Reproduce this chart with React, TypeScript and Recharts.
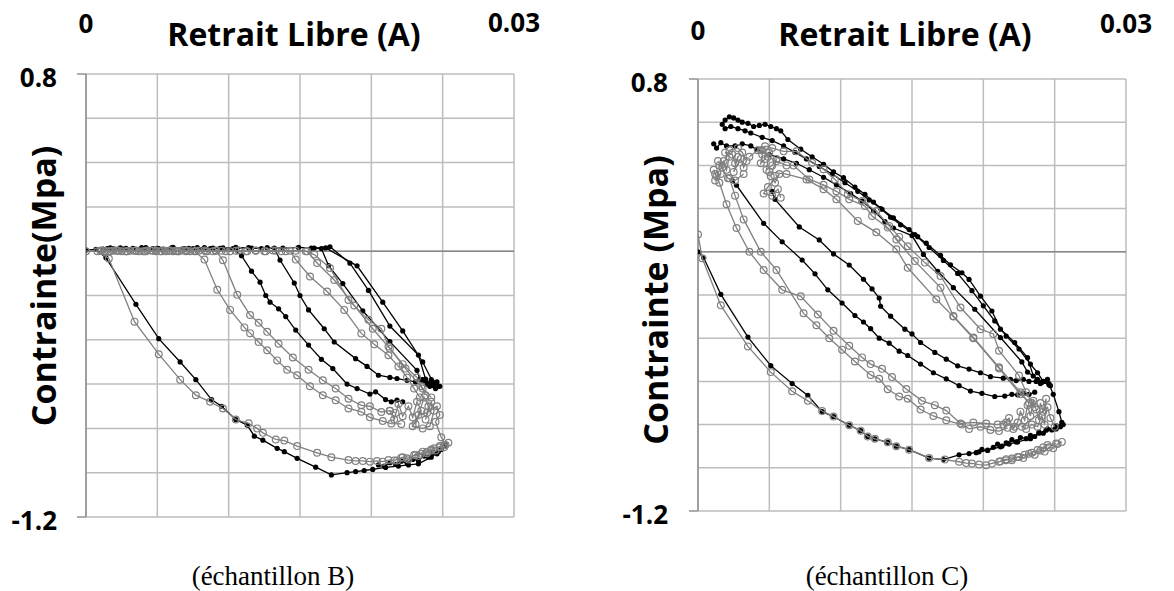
import React from 'react';
import { ScatterChart, Scatter, XAxis, YAxis, CartesianGrid, ReferenceLine } from 'recharts';

type Pt = [number, number];

const xTicks = [0, 0.005, 0.01, 0.015, 0.02, 0.025, 0.03];
const yTicks = [-1.2, -1.0, -0.8, -0.6, -0.4, -0.2, 0, 0.2, 0.4, 0.6, 0.8];
const xLabelTicks = [0, 0.03];
const yLabelTicks = [0.8, -1.2];

const xTitle = 'Retrait Libre (A)';
const yTitleB = 'Contrainte(Mpa)';
const yTitleC = 'Contrainte (Mpa)';
const captionB = '(échantillon B)';
const captionC = '(échantillon C)';

// ---------- échantillon B ----------
const bBlackOuter: Pt[] = [
  [0, 0.005], [0.0007, 0.008], [0.0014, -0.03], [0.0035, -0.24], [0.0051, -0.395], [0.0066, -0.5],
  [0.0077, -0.58], [0.0088, -0.67], [0.0095, -0.7], [0.0105, -0.76], [0.0113, -0.785], [0.0118, -0.835],
  [0.0124, -0.853], [0.0134, -0.89], [0.0139, -0.905], [0.0148, -0.935], [0.0161, -0.975], [0.0172, -1.01],
  [0.0183, -1.0], [0.0189, -0.995], [0.0195, -0.99], [0.0201, -0.985], [0.021, -0.976], [0.0219, -0.97],
  [0.0226, -0.965], [0.0233, -0.96], [0.0242, -0.93], [0.0247, -0.905], [0.0252, -0.875],
];
const bBlackTail: Pt[] = [
  [0.0205, -0.965], [0.0209, -0.97], [0.0213, -0.955], [0.0217, -0.962], [0.0221, -0.948], [0.0225, -0.955],
  [0.0229, -0.94], [0.0233, -0.945], [0.0237, -0.925], [0.024, -0.93], [0.0243, -0.91], [0.0246, -0.915],
  [0.0249, -0.895], [0.0252, -0.88],
];
const bBlack2: Pt[] = [
  [0.0012, 0.01], [0.0019, 0.012], [0.0026, 0.01], [0.0033, 0.013], [0.004, 0.01], [0.0047, 0.012],
  [0.0054, 0.01], [0.0061, 0.014], [0.0068, 0.01], [0.0075, 0.012], [0.0082, 0.01], [0.0089, 0.014],
  [0.0096, 0.01], [0.0103, 0.012], [0.0109, -0.02], [0.0116, -0.09], [0.0122, -0.14], [0.0126, -0.2],
  [0.0129, -0.23], [0.0135, -0.26], [0.014, -0.295], [0.0147, -0.356], [0.0156, -0.424], [0.0165, -0.488],
  [0.0173, -0.53], [0.0183, -0.6], [0.019, -0.62], [0.0199, -0.645], [0.0203, -0.635], [0.021, -0.67],
  [0.0214, -0.68], [0.0218, -0.672], [0.0222, -0.68],
];
const bBlack3: Pt[] = [
  [0.0015, 0.012], [0.0024, 0.015], [0.0033, 0.012], [0.0042, 0.016], [0.0051, 0.012], [0.006, 0.015],
  [0.0069, 0.012], [0.0078, 0.016], [0.0087, 0.012], [0.0096, 0.015], [0.0105, 0.012], [0.0114, 0.016],
  [0.0123, 0.012], [0.0132, 0.014], [0.0136, -0.04], [0.0146, -0.144], [0.015, -0.2], [0.0156, -0.265],
  [0.0167, -0.35], [0.0174, -0.41], [0.0189, -0.485], [0.0197, -0.52], [0.0205, -0.56], [0.0213, -0.57],
  [0.0218, -0.575], [0.0225, -0.583], [0.0231, -0.59], [0.0236, -0.58], [0.024, -0.595], [0.0243, -0.6],
];
const bBlack4: Pt[] = [
  [0.0017, 0.015], [0.0028, 0.013], [0.0039, 0.016], [0.005, 0.013], [0.0061, 0.017], [0.0072, 0.013],
  [0.0083, 0.016], [0.0094, 0.013], [0.0105, 0.017], [0.0116, 0.014], [0.0127, 0.016], [0.0138, 0.014],
  [0.0149, 0.017], [0.016, 0.014], [0.0171, 0.02], [0.0185, -0.054], [0.0198, -0.177], [0.0213, -0.338],
  [0.0233, -0.469], [0.0238, -0.577], [0.0241, -0.6], [0.0236, -0.585], [0.0239, -0.6], [0.0242, -0.58],
  [0.0244, -0.605], [0.0246, -0.59], [0.0248, -0.61], [0.0245, -0.62], [0.0241, -0.61],
];
const bBlack5: Pt[] = [
  [0.0158, 0.014], [0.0165, 0.012], [0.017, -0.065], [0.018, -0.146], [0.0194, -0.269], [0.0213, -0.408],
  [0.0232, -0.538], [0.0234, -0.578], [0.024, -0.6],
];
const bBlack6: Pt[] = [
  [0.0168, 0.015], [0.019, -0.066], [0.0208, -0.23], [0.0222, -0.36], [0.0236, -0.5], [0.0243, -0.59],
  [0.0247, -0.61],
];

const bGrayOuter: Pt[] = [
  [0, 0], [0.0008, 0.0], [0.0016, -0.033], [0.0034, -0.318], [0.0051, -0.465], [0.0066, -0.58],
  [0.0077, -0.65], [0.0087, -0.68], [0.0096, -0.71], [0.0105, -0.76], [0.0114, -0.777], [0.012, -0.8],
  [0.0124, -0.82], [0.0133, -0.85], [0.0139, -0.855], [0.0148, -0.88], [0.0162, -0.91], [0.0172, -0.93],
  [0.0184, -0.943], [0.0189, -0.947], [0.0194, -0.947], [0.0199, -0.95], [0.0204, -0.947], [0.0208, -0.95],
  [0.0212, -0.943], [0.0216, -0.945], [0.0221, -0.932], [0.0225, -0.935], [0.0231, -0.92], [0.0235, -0.915],
  [0.0239, -0.905], [0.0242, -0.9], [0.0244, -0.89], [0.0248, -0.885], [0.0251, -0.875],
];
const bGrayTail: Pt[] = [
  [0.0218, -0.945], [0.0222, -0.93], [0.0226, -0.94], [0.023, -0.92], [0.0233, -0.925], [0.0236, -0.905],
  [0.0239, -0.912], [0.0242, -0.895], [0.0245, -0.9], [0.0248, -0.88], [0.0251, -0.885], [0.0254, -0.865],
];
const bGray2: Pt[] = [
  [0.001, 0.002], [0.0016, 0.0], [0.0022, 0.003], [0.0028, 0.0], [0.0034, 0.002], [0.004, 0.0],
  [0.0046, 0.003], [0.0052, 0.0], [0.0058, 0.002], [0.0064, 0.0], [0.007, 0.003], [0.0076, 0.0],
  [0.0083, -0.038], [0.0092, -0.174], [0.0101, -0.265], [0.0111, -0.344], [0.0115, -0.37], [0.0121, -0.41],
  [0.0127, -0.447], [0.0134, -0.493], [0.0141, -0.535], [0.0148, -0.56], [0.0157, -0.61], [0.0166, -0.65],
  [0.0175, -0.673], [0.0184, -0.71], [0.0193, -0.725], [0.0199, -0.75], [0.0208, -0.767], [0.0214, -0.778],
  [0.0221, -0.78],
];
const bGray3: Pt[] = [
  [0.0013, 0.0], [0.0019, 0.003], [0.0025, 0.0], [0.0031, 0.002], [0.0037, 0.0], [0.0043, 0.003],
  [0.0049, 0.0], [0.0055, 0.002], [0.0061, 0.0], [0.0067, 0.003], [0.0073, 0.0], [0.0079, 0.002],
  [0.0085, 0.0], [0.0091, 0.002], [0.0096, -0.041], [0.0106, -0.197], [0.0115, -0.288], [0.0121, -0.323],
  [0.0127, -0.364], [0.0135, -0.418], [0.0145, -0.48], [0.0156, -0.535], [0.0166, -0.583], [0.0175, -0.62],
  [0.0184, -0.666], [0.0193, -0.696], [0.0199, -0.7], [0.0207, -0.726], [0.0213, -0.72], [0.0217, -0.73],
];
const bGray4: Pt[] = [
  [0.0011, 0.003], [0.0017, 0.0], [0.0023, 0.002], [0.0029, 0.0], [0.0035, 0.003], [0.0041, 0.0],
  [0.0047, 0.002], [0.0053, 0.0], [0.0059, 0.003], [0.0065, 0.0], [0.0071, 0.002], [0.0077, 0.0],
  [0.0083, 0.003], [0.0089, 0.0], [0.0095, 0.002], [0.0101, 0.0], [0.0107, 0.003], [0.0113, 0.0],
  [0.0119, 0.002], [0.0125, 0.0], [0.0131, 0.003], [0.0137, 0.0], [0.0143, 0.002], [0.0147, -0.038],
  [0.0157, -0.114], [0.0169, -0.182], [0.0181, -0.265], [0.0193, -0.371], [0.0202, -0.42], [0.0212, -0.47],
  [0.0219, -0.52], [0.0225, -0.57], [0.023, -0.62], [0.0234, -0.66],
];
const bGray5: Pt[] = [
  [0.0014, 0.0], [0.0021, 0.002], [0.0028, 0.0], [0.0035, 0.002], [0.0042, 0.0], [0.0049, 0.003],
  [0.0056, 0.0], [0.0063, 0.002], [0.007, 0.0], [0.0077, 0.002], [0.0084, 0.0], [0.0091, 0.003],
  [0.0098, 0.0], [0.0105, 0.002], [0.0112, 0.0], [0.0119, 0.003], [0.0126, 0.0], [0.0133, 0.002],
  [0.014, 0.0], [0.0147, 0.002], [0.0154, 0.0], [0.016, -0.015], [0.0171, -0.076], [0.0184, -0.22],
  [0.0198, -0.31], [0.0207, -0.35], [0.0212, -0.43], [0.0222, -0.51], [0.0232, -0.57], [0.0235, -0.61],
  [0.0238, -0.65],
];
const bGray6: Pt[] = [
  [0.0155, 0.0], [0.0162, -0.053], [0.0174, -0.13], [0.0188, -0.245], [0.0201, -0.35], [0.0213, -0.44],
  [0.0224, -0.53], [0.0236, -0.62], [0.0242, -0.66],
];
const bGrayKnot: Pt[] = [
  [0.0213, -0.72], [0.0216, -0.76], [0.0219, -0.69], [0.0222, -0.745], [0.0226, -0.7], [0.0229, -0.75],
  [0.0232, -0.68], [0.0235, -0.72], [0.0231, -0.78], [0.0237, -0.66], [0.024, -0.7], [0.0238, -0.76],
  [0.0242, -0.68], [0.0244, -0.72], [0.0241, -0.79], [0.0236, -0.8], [0.0229, -0.79], [0.0233, -0.74],
  [0.0239, -0.73], [0.0246, -0.7], [0.0248, -0.74], [0.0245, -0.77], [0.0249, -0.84], [0.0252, -0.875],
];

// ---------- échantillon C ----------
const cBlackOuter: Pt[] = [
  [0, 0], [0.0004, -0.028], [0.0016, -0.197], [0.0035, -0.395], [0.0051, -0.527], [0.0066, -0.61],
  [0.0077, -0.665], [0.0087, -0.74], [0.0095, -0.763], [0.0106, -0.803], [0.0114, -0.828], [0.0119, -0.855],
  [0.0124, -0.866], [0.0133, -0.882], [0.0139, -0.9], [0.0148, -0.916], [0.0162, -0.955], [0.0172, -0.962],
  [0.0183, -0.94], [0.019, -0.934], [0.0197, -0.926], [0.0203, -0.918], [0.0212, -0.903], [0.0218, -0.89],
  [0.0224, -0.88], [0.0233, -0.865], [0.0239, -0.84], [0.0244, -0.826], [0.0251, -0.818],
];
const cBlackTail: Pt[] = [
  [0.0195, -0.93], [0.0199, -0.915], [0.0203, -0.92], [0.0207, -0.905], [0.021, -0.89], [0.0213, -0.9],
  [0.0216, -0.885], [0.022, -0.87], [0.0223, -0.88], [0.0226, -0.86], [0.023, -0.865], [0.0233, -0.85],
  [0.0236, -0.855], [0.0239, -0.835], [0.0242, -0.84], [0.0245, -0.82], [0.0248, -0.825], [0.0251, -0.805],
  [0.0254, -0.81], [0.0256, -0.8],
];
const cBlackK1: Pt[] = [
  [0.0024, 0.33], [0.0027, 0.308], [0.0046, 0.132], [0.0059, 0.046], [0.0073, -0.038], [0.0082, -0.102],
  [0.0091, -0.176], [0.0101, -0.237], [0.011, -0.295], [0.0116, -0.325], [0.0121, -0.356], [0.0127, -0.4],
  [0.0134, -0.423], [0.0141, -0.46], [0.0147, -0.48], [0.0156, -0.52], [0.0165, -0.56], [0.0174, -0.588],
  [0.0183, -0.62], [0.0191, -0.645], [0.0199, -0.655], [0.0208, -0.67], [0.0215, -0.668], [0.022, -0.66],
  [0.0224, -0.662], [0.0228, -0.655], [0.0232, -0.66], [0.0236, -0.65],
];
const cBlackK2: Pt[] = [
  [0.0052, 0.28], [0.0054, 0.243], [0.0071, 0.115], [0.0085, 0.055], [0.0095, -0.01], [0.0106, -0.061],
  [0.0116, -0.127], [0.0122, -0.172], [0.0127, -0.214], [0.0128, -0.252], [0.0135, -0.298], [0.0145, -0.358],
  [0.015, -0.38], [0.0156, -0.42], [0.0166, -0.466], [0.0174, -0.497], [0.0182, -0.528], [0.019, -0.543],
  [0.0198, -0.56], [0.0205, -0.578], [0.0214, -0.585], [0.0219, -0.59], [0.0223, -0.596], [0.0228, -0.59],
  [0.0232, -0.6], [0.0237, -0.6], [0.0241, -0.605], [0.0244, -0.6],
];
const cBlackT1: Pt[] = [
  [0.0017, 0.59], [0.0019, 0.61], [0.0022, 0.625], [0.0025, 0.62], [0.0028, 0.61], [0.0031, 0.6],
  [0.0035, 0.595], [0.0039, 0.58], [0.0043, 0.585], [0.0047, 0.59], [0.0051, 0.58], [0.0055, 0.57],
  [0.0058, 0.56], [0.0063, 0.52], [0.0072, 0.475], [0.008, 0.44], [0.0088, 0.405], [0.0095, 0.37],
  [0.0102, 0.343], [0.011, 0.3], [0.0117, 0.266], [0.0123, 0.23], [0.0129, 0.197], [0.0137, 0.157],
  [0.0148, 0.103], [0.0154, 0.07], [0.016, 0.04], [0.017, -0.017], [0.0177, -0.06], [0.0185, -0.097],
  [0.019, -0.128], [0.0198, -0.205], [0.0206, -0.274], [0.0212, -0.358], [0.0222, -0.42], [0.0231, -0.49],
  [0.0235, -0.575], [0.024, -0.61], [0.0244, -0.6], [0.0247, -0.62], [0.0245, -0.59],
];
const cBlackT2: Pt[] = [
  [0.0011, 0.5], [0.0013, 0.48], [0.0016, 0.505], [0.002, 0.49], [0.0026, 0.49], [0.0031, 0.5],
  [0.0037, 0.49], [0.0041, 0.474], [0.005, 0.45], [0.006, 0.43], [0.0069, 0.41], [0.0078, 0.38],
  [0.0088, 0.345], [0.0097, 0.31], [0.0107, 0.27], [0.0115, 0.235], [0.0123, 0.19], [0.0131, 0.14],
  [0.0137, 0.11], [0.015, 0.075], [0.0158, -0.012], [0.0168, -0.09], [0.0179, -0.166], [0.0194, -0.266],
  [0.0212, -0.397], [0.0227, -0.51], [0.0231, -0.557], [0.0238, -0.59], [0.0246, -0.61], [0.0249, -0.66],
  [0.0253, -0.74], [0.0255, -0.79], [0.0251, -0.82],
];
const cBlackT3: Pt[] = [
  [0.0019, 0.57], [0.0023, 0.58], [0.0028, 0.57], [0.0033, 0.56], [0.0037, 0.55], [0.0045, 0.53],
  [0.0052, 0.515], [0.006, 0.49], [0.0068, 0.46], [0.0076, 0.43], [0.0085, 0.395], [0.0094, 0.36],
  [0.0103, 0.32], [0.0112, 0.28], [0.012, 0.24], [0.0128, 0.2], [0.0135, 0.16], [0.0142, 0.125],
  [0.0152, 0.08], [0.0162, 0.02], [0.0172, -0.04], [0.0182, -0.1], [0.0192, -0.18], [0.02, -0.25],
  [0.0208, -0.32], [0.0216, -0.39], [0.0225, -0.45], [0.0233, -0.52], [0.0238, -0.56], [0.0242, -0.6],
  [0.0246, -0.615],
];

const cGrayOuter: Pt[] = [
  [0, 0.08], [0.0003, -0.03], [0.0016, -0.248], [0.0035, -0.438], [0.0051, -0.557], [0.0066, -0.646],
  [0.0077, -0.69], [0.0087, -0.737], [0.0095, -0.763], [0.0106, -0.803], [0.0114, -0.828], [0.0119, -0.855],
  [0.0124, -0.866], [0.0133, -0.882], [0.0139, -0.9], [0.0148, -0.916], [0.0162, -0.955], [0.0173, -0.962],
  [0.0183, -0.972], [0.0188, -0.978], [0.0192, -0.98], [0.0197, -0.985], [0.0202, -0.988], [0.0206, -0.98],
  [0.0211, -0.972], [0.0216, -0.965], [0.022, -0.957], [0.0225, -0.95], [0.0229, -0.94], [0.0234, -0.93],
  [0.0238, -0.918], [0.0242, -0.905], [0.0245, -0.895], [0.0251, -0.888],
];
const cGrayTail: Pt[] = [
  [0.0212, -0.97], [0.0216, -0.96], [0.022, -0.965], [0.0224, -0.95], [0.0228, -0.955], [0.0232, -0.935],
  [0.0236, -0.94], [0.024, -0.92], [0.0243, -0.925], [0.0246, -0.905], [0.0249, -0.91], [0.0252, -0.89],
  [0.0255, -0.88],
];
const cGray2: Pt[] = [
  [0.0012, 0.36], [0.0015, 0.32], [0.002, 0.22], [0.0027, 0.11], [0.0036, 0.0], [0.0046, -0.084],
  [0.0059, -0.176], [0.0072, -0.206], [0.0084, -0.29], [0.0095, -0.366], [0.0106, -0.435], [0.0115, -0.489],
  [0.0121, -0.52], [0.0129, -0.542], [0.0136, -0.58], [0.0146, -0.635], [0.0157, -0.69], [0.0166, -0.71],
  [0.0174, -0.735], [0.0184, -0.795], [0.0193, -0.79], [0.0202, -0.795], [0.021, -0.8], [0.0216, -0.79],
  [0.0222, -0.81],
];
const cGray3: Pt[] = [
  [0.0022, 0.34], [0.0026, 0.26], [0.0032, 0.15], [0.0044, 0.0], [0.0055, -0.084], [0.0074, -0.285],
  [0.0083, -0.34], [0.0092, -0.4], [0.0101, -0.453], [0.011, -0.508], [0.0121, -0.57], [0.0127, -0.588],
  [0.0133, -0.636], [0.0141, -0.67], [0.0147, -0.68], [0.0156, -0.73], [0.0165, -0.76], [0.0174, -0.78],
  [0.0185, -0.8], [0.019, -0.82], [0.0198, -0.81], [0.0205, -0.825], [0.0211, -0.83], [0.0217, -0.815],
];
const cGrayU1: Pt[] = [
  [0.0036, 0.44], [0.0042, 0.47], [0.0047, 0.489], [0.0052, 0.48], [0.006, 0.465], [0.0069, 0.465],
  [0.008, 0.412], [0.0088, 0.382], [0.0096, 0.335], [0.0105, 0.266], [0.0115, 0.235], [0.0125, 0.189],
  [0.0134, 0.12], [0.0141, 0.069], [0.0147, 0.026], [0.0159, -0.05], [0.017, -0.112], [0.0184, -0.258],
  [0.0198, -0.358], [0.0207, -0.38], [0.0211, -0.458], [0.0225, -0.573], [0.023, -0.65], [0.0234, -0.7],
];
const cGrayU2: Pt[] = [
  [0.0045, 0.47], [0.0049, 0.44], [0.0055, 0.42], [0.0062, 0.4], [0.0067, 0.4], [0.0078, 0.335],
  [0.0088, 0.31], [0.0097, 0.28], [0.0106, 0.243], [0.0117, 0.212], [0.0122, 0.166], [0.0133, 0.112],
  [0.0139, 0.057], [0.0152, -0.043], [0.017, -0.166], [0.0179, -0.297], [0.0193, -0.397], [0.0211, -0.535],
  [0.0226, -0.65], [0.0232, -0.7],
];
const cGrayU3: Pt[] = [
  [0.005, 0.37], [0.0062, 0.36], [0.0076, 0.335], [0.0088, 0.29], [0.0097, 0.243], [0.0112, 0.143],
  [0.0125, 0.09], [0.0139, 0.012], [0.0147, -0.074], [0.0167, -0.22], [0.0179, -0.3], [0.0193, -0.4],
  [0.0211, -0.54], [0.0226, -0.66], [0.0236, -0.72],
];
const cGrayKnotA: Pt[] = [
  [0.0011, 0.38], [0.0013, 0.35], [0.0012, 0.33], [0.0016, 0.36], [0.0015, 0.4], [0.0018, 0.42],
  [0.002, 0.38], [0.0022, 0.44], [0.0019, 0.46], [0.0024, 0.45], [0.0026, 0.41], [0.0028, 0.44],
  [0.0025, 0.37], [0.003, 0.43], [0.0032, 0.39], [0.0034, 0.42], [0.0031, 0.46], [0.0028, 0.48],
  [0.0022, 0.47], [0.0017, 0.39], [0.0014, 0.42], [0.0021, 0.34], [0.0026, 0.33], [0.0032, 0.36],
];
const cGrayKnotB: Pt[] = [
  [0.0044, 0.47], [0.0045, 0.45], [0.0044, 0.41], [0.0047, 0.43], [0.005, 0.46], [0.0048, 0.38],
  [0.0052, 0.4], [0.0055, 0.43], [0.0051, 0.35], [0.0054, 0.32], [0.0057, 0.36], [0.0049, 0.3],
  [0.0046, 0.27], [0.0052, 0.26], [0.0056, 0.29], [0.0058, 0.25],
];
const cGrayKnotC: Pt[] = [
  [0.0214, -0.8], [0.0218, -0.77], [0.0221, -0.82], [0.0224, -0.79], [0.0226, -0.74], [0.0229, -0.78],
  [0.0231, -0.71], [0.0233, -0.76], [0.0235, -0.69], [0.0237, -0.73], [0.0239, -0.78], [0.024, -0.7],
  [0.0242, -0.74], [0.0244, -0.68], [0.0243, -0.8], [0.0241, -0.76], [0.0238, -0.81], [0.0234, -0.8],
  [0.023, -0.82], [0.0227, -0.81], [0.0245, -0.72], [0.0247, -0.77], [0.025, -0.81],
];

const blackB = [bBlackOuter, bBlackTail, bBlack2, bBlack3, bBlack4, bBlack5, bBlack6];
const grayB = [bGrayOuter, bGrayTail, bGray2, bGray3, bGray4, bGray5, bGray6, bGrayKnot];
const blackC = [cBlackOuter, cBlackTail, cBlackK1, cBlackK2, cBlackT1, cBlackT2, cBlackT3];
const grayC = [cGrayOuter, cGrayTail, cGray2, cGray3, cGrayU1, cGrayU2, cGrayU3, cGrayKnotA, cGrayKnotB, cGrayKnotC];

const toPts = (arr: Pt[]) => arr.map(([x, y]) => ({ x, y }));

const FONT = "'Open Sans', 'Liberation Sans', sans-serif";

const BlackDot = (p: any) => <circle cx={p.cx} cy={p.cy} r={2.6} fill="#000" />;
const GrayRing = (p: any) => (
  <circle cx={p.cx} cy={p.cy} r={3.4} fill="none" stroke="#808080" strokeWidth={1.2} />
);

interface PanelCfg {
  left: number;
  margin: { top: number; right: number; bottom: number; left: number };
  zeroBase: number;
  endBase: number;
  yLabelRight: number;
  plotLeft: number;
}

const Panel = ({ black, gray, cfg }: { black: Pt[][]; gray: Pt[][]; cfg: PanelCfg }) => {
  const renderXTick = (p: any) => {
    const v = p.payload.value;
    if (!xLabelTicks.includes(v)) return <g />;
    return (
      <text x={p.x} y={v === 0 ? cfg.zeroBase : cfg.endBase} textAnchor="middle"
        fontFamily={FONT} fontWeight={700} fontSize={26} fill="#000">{String(v)}</text>
    );
  };
  const renderYTick = (p: any) => {
    const v = p.payload.value;
    if (!yLabelTicks.includes(v)) return <g />;
    return (
      <g>
        <line x1={cfg.plotLeft - 9} x2={cfg.plotLeft} y1={p.y} y2={p.y} stroke="#8c8c8c" strokeWidth={1.4} />
        <text x={cfg.yLabelRight} y={p.y + 3} textAnchor="end" dominantBaseline="central"
          fontFamily={FONT} fontWeight={700} fontSize={26} fill="#000">{String(v)}</text>
      </g>
    );
  };
  return (
    <div style={{ position: 'absolute', left: cfg.left, top: 0 }}>
      <ScatterChart width={587} height={591} margin={cfg.margin}>
        <CartesianGrid stroke="#bdbdbd" strokeWidth={1.5} />
        <XAxis type="number" dataKey="x" orientation="top" domain={[0, 0.03]} ticks={xTicks} interval={0}
          height={50} axisLine={false} tickLine={false} tick={renderXTick} allowDataOverflow />
        <YAxis type="number" dataKey="y" domain={[-1.2, 0.8]} ticks={yTicks} interval={0} width={60}
          axisLine={{ stroke: '#8c8c8c', strokeWidth: 1.4 }} tickLine={false} tick={renderYTick} allowDataOverflow />
        <ReferenceLine y={0} stroke="#878787" strokeWidth={1.4} />
        {black.map((s, i) => (
          <Scatter key={'k' + i} data={toPts(s)} line={{ stroke: '#000', strokeWidth: 1.3 }}
            shape={BlackDot} isAnimationActive={false} />
        ))}
        {gray.map((s, i) => (
          <Scatter key={'g' + i} data={toPts(s)} line={{ stroke: '#808080', strokeWidth: 1.3 }}
            shape={GrayRing} isAnimationActive={false} />
        ))}
      </ScatterChart>
    </div>
  );
};

const cfgB: PanelCfg = {
  left: 0, margin: { top: 24, right: 73, bottom: 74, left: 26 },
  zeroBase: 33, endBase: 32, yLabelRight: 57, plotLeft: 86,
};
const cfgC: PanelCfg = {
  left: 587, margin: { top: 29, right: 48, bottom: 80, left: 51 },
  zeroBase: 40, endBase: 33, yLabelRight: 81, plotLeft: 111,
};

export default function App() {
  const titleStyle = { fontFamily: FONT, fontWeight: 700, fill: '#000' };
  return (
    <div style={{ position: 'absolute', left: 0, top: 0, width: 1174, height: 591, background: '#fff', overflow: 'hidden' }}>
      <Panel black={blackB} gray={grayB} cfg={cfgB} />
      <Panel black={blackC} gray={grayC} cfg={cfgC} />
      <svg width={1174} height={591} style={{ position: 'absolute', left: 0, top: 0, pointerEvents: 'none' }}>
        <text x={294} y={46} textAnchor="middle" fontSize={32} {...titleStyle}>{xTitle}</text>
        <text x={905} y={46} textAnchor="middle" fontSize={32} {...titleStyle}>{xTitle}</text>
        <text transform="translate(43,286) rotate(-90)" textAnchor="middle" dominantBaseline="central"
          fontSize={34} {...titleStyle}>{yTitleB}</text>
        <text transform="translate(655,300) rotate(-90)" textAnchor="middle" dominantBaseline="central"
          fontSize={34} {...titleStyle}>{yTitleC}</text>
        <text x={273} y={585} textAnchor="middle" fontFamily="'Liberation Serif', serif" fontSize={27} fill="#000">{captionB}</text>
        <text x={887} y={585} textAnchor="middle" fontFamily="'Liberation Serif', serif" fontSize={27} fill="#000">{captionC}</text>
      </svg>
    </div>
  );
}
